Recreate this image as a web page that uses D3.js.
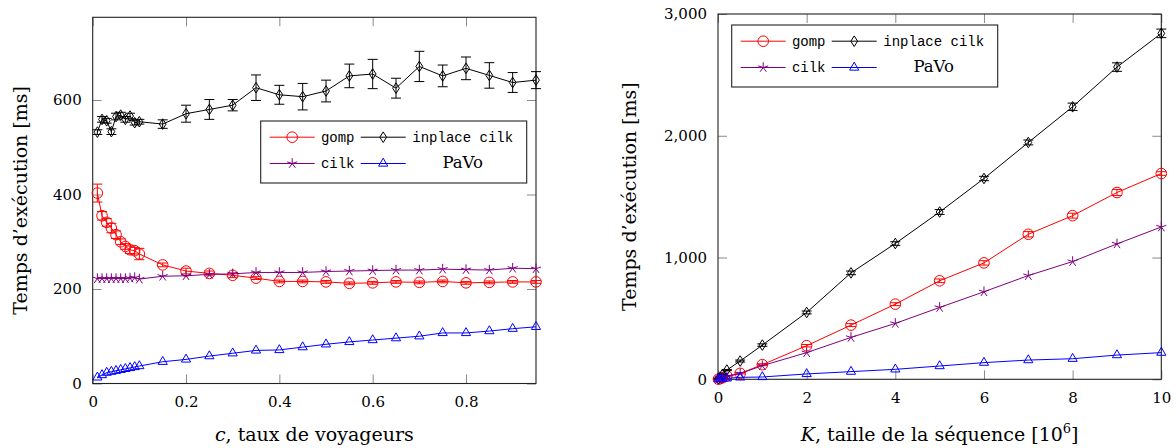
<!DOCTYPE html>
<html lang="fr">
<head>
<meta charset="UTF-8">
<title>Temps d'exécution</title>
<script src="https://d3js.org/d3.v7.min.js"></script>
<style>
  body { margin: 0; background: #fff; }
  svg text { font-family: "DejaVu Serif", serif; fill: #000; }
  .tt { font-family: "Liberation Mono", "DejaVu Sans Mono", monospace; }
</style>
</head>
<body>
<svg id="fig" width="1176" height="448"></svg>
<script>
// --- gauche : c, taux de voyageurs ---
var tauxC = [0.01, 0.02, 0.03, 0.04, 0.05, 0.06, 0.07, 0.08, 0.09, 0.10, 0.15, 0.20, 0.25, 0.30, 0.35,
             0.40, 0.45, 0.50, 0.55, 0.60, 0.65, 0.70, 0.75, 0.80, 0.85, 0.90, 0.95];
var gompC = [403, 355, 341, 329, 315, 300, 290, 283, 281, 274, 251, 238, 233, 229, 223,
             216, 216, 215, 212, 213, 215, 214, 216, 213, 214, 215, 215];
var gompErrC = [19, 9, 8, 10, 8, 6, 6, 8, 7, 12, 4, 6, 5, 5, 3, 3, 3, 3, 3, 3, 3, 3, 3, 3, 3, 3, 3];
var inplaceC = [532, 559, 556, 533, 565, 568, 559, 566, 552, 554, 549, 571, 580, 589, 626,
                611, 607, 619, 651, 655, 625, 671, 651, 667, 652, 637, 642];
var inplaceErrC = [5, 6, 5, 6, 7, 6, 6, 6, 5, 5, 9, 18, 21, 12, 27, 20, 28, 23, 25, 31, 21, 32, 23, 24, 27, 21, 18];
var cilkC = [222, 222, 222, 222, 222, 222, 222, 223, 224, 221, 227, 228, 231, 232, 235,
             235, 235, 237, 238, 239, 240, 240, 242, 241, 240, 244, 243];
var pavoC = [13, 18, 23, 25, 27, 29, 31, 33, 35, 37, 46, 51, 58, 64, 70,
             71, 77, 83, 88, 92, 96, 100, 107, 107, 111, 116, 120];
var ticksXC = [0, 0.2, 0.4, 0.6, 0.8];
var ticksYC = [0, 200, 400, 600];

// --- droite : K, taille de la sequence [10^6] ---
var tailleK = [0.01, 0.05, 0.1, 0.2, 0.5, 1, 2, 3, 4, 5, 6, 7, 8, 9, 10];
var gompK = [1, 6, 13, 28, 49, 120, 276, 445, 617, 809, 956, 1191, 1344, 1534, 1690];
var gompErrK = [1, 1, 2, 3, 5, 8, 10, 12, 12, 15, 18, 22, 20, 25, 15];
var inplaceK = [4, 18, 40, 76, 150, 281, 549, 874, 1115, 1374, 1649, 1945, 2238, 2564, 2841];
var inplaceErrK = [1, 2, 3, 5, 8, 10, 12, 15, 15, 20, 18, 20, 30, 35, 35];
var cilkK = [1, 5, 11, 22, 47, 112, 219, 344, 459, 590, 719, 852, 967, 1112, 1251];
var pavoK = [1, 3, 5, 8, 16, 19, 44, 63, 82, 109, 137, 158, 169, 199, 219];
var ticksXK = [0, 2, 4, 6, 8, 10];
var ticksYK = [0, 1000, 2000, 3000];

var noms = ["gomp", "inplace cilk", "cilk", "PaVo"];
var couleurs = ["#ff0000", "#000000", "#800080", "#0000ff"];
var formes = ["o", "diamond", "star", "triangle"];

function formeMarque(forme) {
  var r = 5.3;
  if (forme == "o")
    return "M" + r + ",0A" + r + "," + r + " 0 1,1 " + (-r) + ",0A" + r + "," + r + " 0 1,1 " + r + ",0Z";
  if (forme == "diamond")
    return "M0," + (-r) + "L3.4,0L0," + r + "L-3.4,0Z";
  if (forme == "triangle")
    return "M0," + (-r) + "L" + (0.866 * r) + "," + (0.5 * r) + "L" + (-0.866 * r) + "," + (0.5 * r) + "Z";
  // star : 5 branches
  var p = "";
  for (var k = 0; k < 5; k++) {
    var a = -Math.PI / 2 + k * 2 * Math.PI / 5;
    p += "M0,0L" + (r * Math.cos(a)).toFixed(2) + "," + (r * Math.sin(a)).toFixed(2);
  }
  return p;
}

function dessineGraphique(cfg) {
  var svg = d3.select("#fig");
  var g = svg.append("g");

  var x = d3.scaleLinear().domain(cfg.xDomaine).range([cfg.gauche, cfg.droite]);
  var y = d3.scaleLinear().domain(cfg.yDomaine).range([cfg.bas, cfg.haut]);

  // ticks vers l'interieur, sur les quatre cotes
  var axes = [
    g.append("g").attr("transform", "translate(0," + cfg.bas + ")")
      .call(d3.axisBottom(x).tickValues(cfg.ticksX).tickSizeInner(-9).tickSizeOuter(0).tickPadding(13)
        .tickFormat(cfg.formatX)),
    g.append("g").attr("transform", "translate(0," + cfg.haut + ")")
      .call(d3.axisTop(x).tickValues(cfg.ticksX).tickSizeInner(-9).tickSizeOuter(0).tickFormat("")),
    g.append("g").attr("transform", "translate(" + cfg.gauche + ",0)")
      .call(d3.axisLeft(y).tickValues(cfg.ticksY).tickSizeInner(-9).tickSizeOuter(0).tickPadding(11)
        .tickFormat(cfg.formatY)),
    g.append("g").attr("transform", "translate(" + cfg.droite + ",0)")
      .call(d3.axisRight(y).tickValues(cfg.ticksY).tickSizeInner(-9).tickSizeOuter(0).tickFormat(""))
  ];
  axes.forEach(function(a) {
    a.attr("font-family", null).attr("font-size", null);
    a.select(".domain").remove();
    a.selectAll(".tick line").attr("stroke", "#8a8a8a").attr("stroke-width", 1);
    a.selectAll(".tick text").style("font-size", "15px");
  });

  g.append("rect")
    .attr("x", cfg.gauche).attr("y", cfg.haut)
    .attr("width", cfg.droite - cfg.gauche).attr("height", cfg.bas - cfg.haut)
    .attr("fill", "none").attr("stroke", "#222").attr("stroke-width", 1.1);

  var ligne = d3.line().x(d => x(d[0])).y(d => y(d[1]));

  cfg.series.forEach(function(s, i) {
    var pts = cfg.xs.map((v, j) => [v, s[j]]);
    var gs = g.append("g");
    gs.append("path")
      .attr("d", ligne(pts))
      .attr("fill", "none")
      .attr("stroke", couleurs[i])
      .attr("stroke-width", 1);

    gs.selectAll("path.marque")
      .data(pts)
      .enter()
      .append("path")
        .attr("class", "marque")
        .attr("transform", d => "translate(" + x(d[0]) + "," + y(d[1]) + ")")
        .attr("d", formeMarque(formes[i]))
        .attr("fill", "none")
        .attr("stroke", couleurs[i])
        .attr("stroke-width", 1);

    var err = cfg.erreurs[i];
    if (err) {
      var eb = gs.selectAll("g.err")
        .data(pts.map((d, j) => [d[0], d[1], err[j]]))
        .enter()
        .append("g").attr("class", "err")
        .attr("stroke", couleurs[i]).attr("stroke-width", 1);
      eb.append("line")
        .attr("x1", d => x(d[0])).attr("x2", d => x(d[0]))
        .attr("y1", d => y(d[1] - d[2])).attr("y2", d => y(d[1] + d[2]));
      eb.append("line")
        .attr("x1", d => x(d[0]) - 5).attr("x2", d => x(d[0]) + 5)
        .attr("y1", d => y(d[1] + d[2])).attr("y2", d => y(d[1] + d[2]));
      eb.append("line")
        .attr("x1", d => x(d[0]) - 5).attr("x2", d => x(d[0]) + 5)
        .attr("y1", d => y(d[1] - d[2])).attr("y2", d => y(d[1] - d[2]));
    }
  });

  // legende (2 colonnes)
  var lg = g.append("g");
  lg.append("rect")
    .attr("x", cfg.legende[0]).attr("y", cfg.legende[1])
    .attr("width", 266).attr("height", 62)
    .attr("fill", "white").attr("stroke", "#222").attr("stroke-width", 1.1);
  var colonnes = [{ligne: 9, texte: 77}, {ligne: 100, texte: 202}];
  noms.forEach(function(nom, i) {
    var c = colonnes[i % 2];
    var ry = cfg.legende[1] + (i < 2 ? 16.2 : 42.5);
    var lx = cfg.legende[0] + c.ligne;
    lg.append("line")
      .attr("x1", lx).attr("x2", lx + 45)
      .attr("y1", ry).attr("y2", ry)
      .attr("stroke", couleurs[i]).attr("stroke-width", 1);
    lg.append("path")
      .attr("transform", "translate(" + (lx + 22.5) + "," + ry + ")")
      .attr("d", formeMarque(formes[i]))
      .attr("fill", "none").attr("stroke", couleurs[i]).attr("stroke-width", 1);
    var t = lg.append("text")
      .attr("x", cfg.legende[0] + c.texte)
      .attr("y", ry + 4.5)
      .attr("text-anchor", "middle")
      .text(nom);
    if (nom == "PaVo") t.style("font-size", "16.5px");
    else t.attr("class", "tt").style("font-size", "14px");
  });

  // titres des axes
  g.append("text")
    .attr("transform", "translate(" + cfg.yTitreX + "," + ((cfg.haut + cfg.bas) / 2) + ") rotate(-90)")
    .attr("text-anchor", "middle")
    .style("font-size", "19px")
    .text("Temps d\u2019exécution [ms]");

  var xt = g.append("text")
    .attr("x", (cfg.gauche + cfg.droite) / 2)
    .attr("y", 441)
    .attr("text-anchor", "middle")
    .style("font-size", "19px");
  cfg.xTitre(xt);
}

dessineGraphique({
  gauche: 92.7, droite: 536, haut: 17.3, bas: 383.5,
  xDomaine: [0, 0.95], yDomaine: [0, 775],
  ticksX: ticksXC, ticksY: ticksYC,
  formatX: d => d === 0 ? "0" : d3.format(".1f")(d),
  formatY: d3.format("d"),
  xs: tauxC,
  series: [gompC, inplaceC, cilkC, pavoC],
  erreurs: [gompErrC, inplaceErrC, null, null],
  legende: [260.7, 121],
  yTitreX: 27,
  xTitre: function(t) {
    t.append("tspan").style("font-style", "italic").text("c");
    t.append("tspan").text(", taux de voyageurs");
  }
});

dessineGraphique({
  gauche: 718, droite: 1161.3, haut: 14, bas: 379.3,
  xDomaine: [0, 10], yDomaine: [0, 3000],
  ticksX: ticksXK, ticksY: ticksYK,
  formatX: d3.format("d"),
  formatY: d3.format(","),
  xs: tailleK,
  series: [gompK, inplaceK, cilkK, pavoK],
  erreurs: [gompErrK, inplaceErrK, null, null],
  legende: [731.7, 25],
  yTitreX: 636,
  xTitre: function(t) {
    t.append("tspan").style("font-style", "italic").text("K");
    t.append("tspan").text(", taille de la séquence [10");
    t.append("tspan").attr("dy", -8).style("font-size", "13px").text("6");
    t.append("tspan").attr("dy", 8).text("]");
  }
});
</script>
</body>
</html>
